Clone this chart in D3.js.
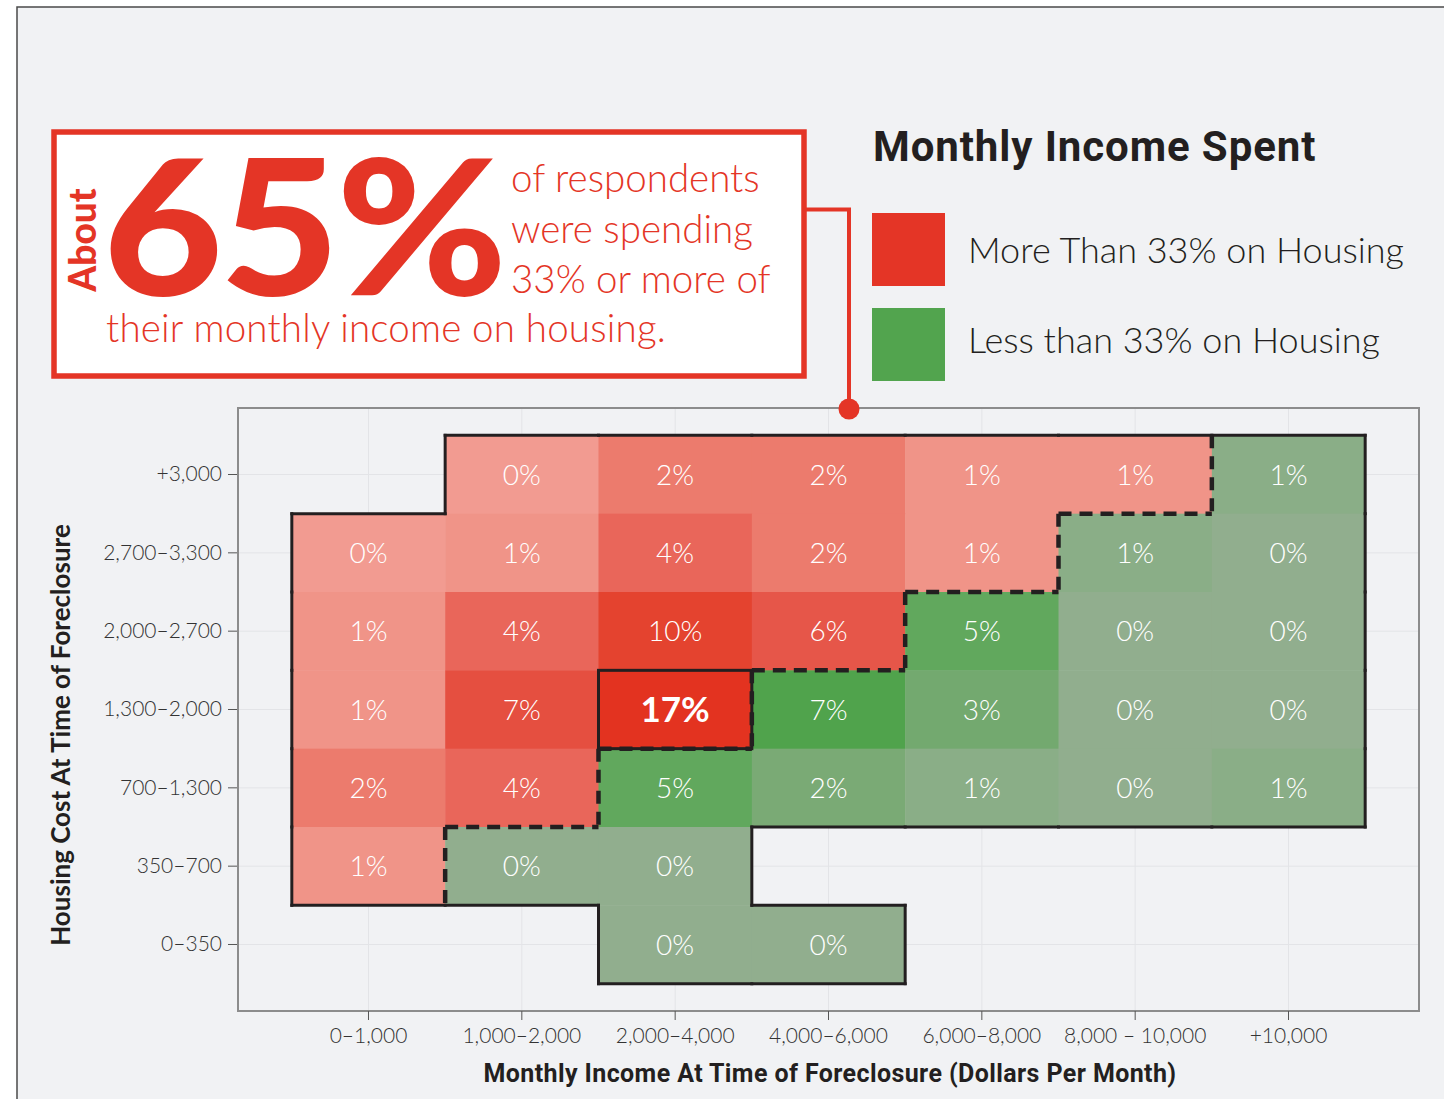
<!DOCTYPE html>
<html>
<head>
<meta charset="utf-8">
<script src="https://cdn.jsdelivr.net/npm/d3@7"></script>
<style>
  body { margin: 0; background: #ffffff; }
  svg { font-family: Lato, "Open Sans", sans-serif; }
</style>
</head>
<body>
<div id="chart"></div>
<script>
// column / row labels
var incomeBins = ["0–1,000", "1,000–2,000", "2,000–4,000", "4,000–6,000", "6,000–8,000", "8,000 – 10,000", "+10,000"];
var housingBins = ["+3,000", "2,700–3,300", "2,000–2,700", "1,300–2,000", "700–1,300", "350–700", "0–350"];

// share of respondents (%) per housing row, null = no cell
var sharePct = [
    [null, 0, 2, 2, 1, 1, 1],
    [0, 1, 4, 2, 1, 1, 0],
    [1, 4, 10, 6, 5, 0, 0],
    [1, 7, 17, 7, 3, 0, 0],
    [2, 4, 5, 2, 1, 0, 1],
    [1, 0, 0, null, null, null, null],
    [null, null, 0, 0, null, null, null]
];

// 1 = more than 33% of income on housing
var overThird = [
    [0, 1, 1, 1, 1, 1, 0],
    [1, 1, 1, 1, 1, 0, 0],
    [1, 1, 1, 1, 0, 0, 0],
    [1, 1, 1, 0, 0, 0, 0],
    [1, 1, 0, 0, 0, 0, 0],
    [1, 0, 0, 0, 0, 0, 0],
    [0, 0, 0, 0, 0, 0, 0]
];

var legendLabels = ["More Than 33% on Housing", "Less than 33% on Housing"];
var peakCell = {income: "2,000–4,000", housing: "1,300–2,000"};

var W = 1444, H = 1099;
var red = "#e43526", ink = "#231f20";

var svg = d3.select("#chart")
    .append("svg")
    .attr("width", W)
    .attr("height", H);

// page frame
svg.append("rect")
    .attr("x", 17).attr("y", 7)
    .attr("width", W).attr("height", H)
    .attr("fill", "#f1f2f4")
    .attr("stroke", "#4a4a4a")
    .attr("stroke-width", 1.5);

// scales
var panel = {left: 238, right: 1419, top: 408, bottom: 1011};

var x = d3.scaleBand()
    .domain(incomeBins)
    .range([panel.left, panel.right])
    .paddingInner(0)
    .paddingOuter(0.351);

var y = d3.scaleBand()
    .domain(housingBins)
    .range([panel.top, panel.bottom])
    .paddingInner(0)
    .paddingOuter(0.349);

var redColor = d3.scaleLinear()
    .domain([0, 1, 2, 4, 6, 7, 10, 17])
    .range(["#f29b91", "#f09488", "#ec7b6d", "#e9665a", "#e65649", "#e54f40", "#e4432f", "#e33320"]);

var greenColor = d3.scaleLinear()
    .domain([0, 1, 2, 3, 5, 7])
    .range(["#91ae8e", "#8aae87", "#7aaa75", "#73a96f", "#61a85d", "#50a34c"]);

// panel + grid
svg.append("rect")
    .attr("x", panel.left).attr("y", panel.top)
    .attr("width", panel.right - panel.left)
    .attr("height", panel.bottom - panel.top)
    .attr("fill", "#f1f2f4");

svg.append("g").selectAll("line")
    .data(incomeBins)
    .enter().append("line")
    .attr("x1", function(d) { return x(d) + x.bandwidth() / 2; })
    .attr("x2", function(d) { return x(d) + x.bandwidth() / 2; })
    .attr("y1", panel.top).attr("y2", panel.bottom)
    .attr("stroke", "#e3e4e7").attr("stroke-width", 1);

svg.append("g").selectAll("line")
    .data(housingBins)
    .enter().append("line")
    .attr("y1", function(d) { return y(d) + y.bandwidth() / 2; })
    .attr("y2", function(d) { return y(d) + y.bandwidth() / 2; })
    .attr("x1", panel.left).attr("x2", panel.right)
    .attr("stroke", "#e3e4e7").attr("stroke-width", 1);

// flatten cells
var cells = [];
sharePct.forEach(function(row, r) {
    row.forEach(function(v, c) {
        if (v !== null) {
            cells.push({r: r, c: c, value: v, over: overThird[r][c] === 1,
                income: incomeBins[c], housing: housingBins[r]});
        }
    });
});

function hasCell(r, c) {
    return r >= 0 && r < sharePct.length && c >= 0 && c < incomeBins.length && sharePct[r][c] !== null;
}

function isPeak(d) {
    return d.income === peakCell.income && d.housing === peakCell.housing;
}

svg.append("g").selectAll("rect")
    .data(cells)
    .enter().append("rect")
    .attr("x", function(d) { return x(d.income); })
    .attr("y", function(d) { return y(d.housing); })
    .attr("width", x.bandwidth() + 0.5)
    .attr("height", y.bandwidth() + 0.5)
    .attr("fill", function(d) { return d.over ? redColor(d.value) : greenColor(d.value); });

// edges: solid around the filled area, dashed between red and green
var solidEdges = [], dashEdges = [];
cells.forEach(function(d) {
    var x0 = x(d.income), x1 = x0 + x.bandwidth();
    var y0 = y(d.housing), y1 = y0 + y.bandwidth();
    if (!hasCell(d.r - 1, d.c)) solidEdges.push([x0, y0, x1, y0]);
    else if (overThird[d.r - 1][d.c] !== overThird[d.r][d.c]) dashEdges.push([x0, y0, x1, y0]);
    if (!hasCell(d.r + 1, d.c)) solidEdges.push([x0, y1, x1, y1]);
    if (!hasCell(d.r, d.c - 1)) solidEdges.push([x0, y0, x0, y1]);
    else if (overThird[d.r][d.c - 1] !== overThird[d.r][d.c]) dashEdges.push([x0, y0, x0, y1]);
    if (!hasCell(d.r, d.c + 1)) solidEdges.push([x1, y0, x1, y1]);
});

svg.append("g").selectAll("line")
    .data(solidEdges)
    .enter().append("line")
    .attr("x1", function(d) { return d[0]; })
    .attr("y1", function(d) { return d[1]; })
    .attr("x2", function(d) { return d[2]; })
    .attr("y2", function(d) { return d[3]; })
    .attr("stroke", ink)
    .attr("stroke-width", 3)
    .attr("stroke-linecap", "square");

// peak cell box
svg.append("rect")
    .attr("x", x(peakCell.income))
    .attr("y", y(peakCell.housing))
    .attr("width", x.bandwidth())
    .attr("height", y.bandwidth())
    .attr("fill", "none")
    .attr("stroke", ink)
    .attr("stroke-width", 3);

svg.append("g").selectAll("line")
    .data(dashEdges)
    .enter().append("line")
    .attr("x1", function(d) { return d[0]; })
    .attr("y1", function(d) { return d[1]; })
    .attr("x2", function(d) { return d[2]; })
    .attr("y2", function(d) { return d[3]; })
    .attr("stroke", ink)
    .attr("stroke-width", 4.5)
    .attr("stroke-dasharray", "13,8");

// cell labels
svg.append("g").selectAll("text")
    .data(cells)
    .enter().append("text")
    .attr("x", function(d) { return x(d.income) + x.bandwidth() / 2; })
    .attr("y", function(d) { return y(d.housing) + y.bandwidth() / 2; })
    .attr("dy", "0.36em")
    .attr("text-anchor", "middle")
    .attr("fill", "#ffffff")
    .attr("font-size", function(d) { return isPeak(d) ? 35 : 28; })
    .attr("font-weight", function(d) { return isPeak(d) ? 700 : 300; })
    .text(function(d) { return d.value + "%"; });

// panel border
svg.append("rect")
    .attr("x", panel.left).attr("y", panel.top)
    .attr("width", panel.right - panel.left)
    .attr("height", panel.bottom - panel.top)
    .attr("fill", "none")
    .attr("stroke", "#8c8c8c")
    .attr("stroke-width", 2);

// axes
var xAxis = svg.append("g")
    .attr("transform", "translate(0," + panel.bottom + ")")
    .call(d3.axisBottom(x).tickSize(9).tickPadding(8));
xAxis.select(".domain").remove();
xAxis.selectAll("line").attr("stroke", "#555");
xAxis.selectAll("text")
    .attr("font-family", "Lato, sans-serif")
    .attr("font-size", 21)
    .attr("font-weight", 300)
    .attr("fill", "#333");

var yAxis = svg.append("g")
    .attr("transform", "translate(" + (panel.left - 1) + ",0)")
    .call(d3.axisLeft(y).tickSize(9).tickPadding(6));
yAxis.select(".domain").remove();
yAxis.selectAll("line").attr("stroke", "#555");
yAxis.selectAll("text")
    .attr("font-family", "Lato, sans-serif")
    .attr("font-size", 21)
    .attr("font-weight", 300)
    .attr("fill", "#333");

svg.append("text")
    .attr("x", 830)
    .attr("y", 1082)
    .attr("text-anchor", "middle")
    .attr("font-family", "Roboto, sans-serif")
    .attr("font-size", 25)
    .attr("font-weight", 700)
    .attr("letter-spacing", 0.4)
    .attr("fill", ink)
    .text("Monthly Income At Time of Foreclosure (Dollars Per Month)");

svg.append("text")
    .attr("transform", "translate(70,735) rotate(-90)")
    .attr("text-anchor", "middle")
    .attr("font-size", 26)
    .attr("font-weight", 700)
    .attr("fill", ink)
    .text("Housing Cost At Time of Foreclosure");

// callout box
svg.append("rect")
    .attr("x", 54).attr("y", 132)
    .attr("width", 750).attr("height", 244)
    .attr("fill", "#ffffff")
    .attr("stroke", red)
    .attr("stroke-width", 5.5);

svg.append("path")
    .attr("d", "M806,209.5H849V409")
    .attr("fill", "none")
    .attr("stroke", red)
    .attr("stroke-width", 4);

svg.append("circle")
    .attr("cx", 849).attr("cy", 409).attr("r", 10.5)
    .attr("fill", red);

svg.append("text")
    .attr("transform", "translate(96,240) rotate(-90)")
    .attr("text-anchor", "middle")
    .attr("font-size", 37)
    .attr("font-weight", 900)
    .attr("fill", red)
    .text("About");

svg.append("text")
    .attr("transform", "translate(103,295) scale(1.1,1)")
    .attr("font-size", 188)
    .attr("font-weight", 900)
    .attr("letter-spacing", -3)
    .attr("fill", red)
    .text("65%");

var calloutLines = ["of respondents", "were spending", "33% or more of"];
svg.append("g").selectAll("text")
    .data(calloutLines)
    .enter().append("text")
    .attr("x", 511)
    .attr("y", function(d, i) { return 192 + i * 50.5; })
    .attr("font-size", 38.5)
    .attr("font-weight", 300)
    .attr("fill", red)
    .text(function(d) { return d; });

svg.append("text")
    .attr("x", 106).attr("y", 342)
    .attr("font-size", 38.5)
    .attr("font-weight", 300)
    .attr("letter-spacing", 0.2)
    .attr("fill", red)
    .text("their monthly income on housing.");

// legend
svg.append("text")
    .attr("x", 873).attr("y", 161)
    .attr("font-family", "Roboto, sans-serif")
    .attr("font-size", 42)
    .attr("font-weight", 700)
    .attr("letter-spacing", 0.9)
    .attr("fill", ink)
    .text("Monthly Income Spent");

var legendColors = [red, "#52a44e"];
svg.append("g").selectAll("rect")
    .data(legendLabels)
    .enter().append("rect")
    .attr("x", 872)
    .attr("y", function(d, i) { return 213 + i * 95; })
    .attr("width", 73).attr("height", 73)
    .attr("fill", function(d, i) { return legendColors[i]; });

svg.append("g").selectAll("text")
    .data(legendLabels)
    .enter().append("text")
    .attr("x", 968)
    .attr("y", function(d, i) { return 263 + i * 90; })
    .attr("font-size", 36)
    .attr("font-weight", 300)
    .attr("fill", ink)
    .text(function(d) { return d; });
</script>
</body>
</html>
